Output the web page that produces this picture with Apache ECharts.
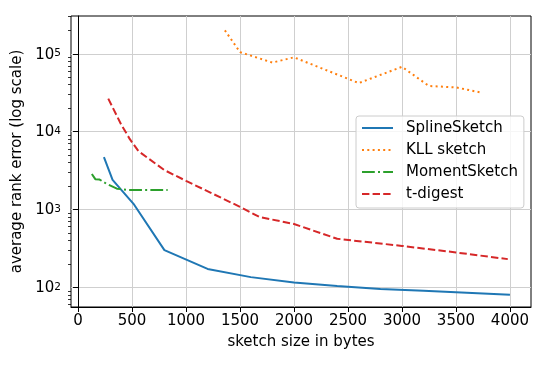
<!DOCTYPE html>
<html>
<head>
<meta charset="utf-8">
<title>sketch error</title>
<script src="https://cdn.jsdelivr.net/npm/echarts@6/dist/echarts.min.js"></script>
<style>
    html, body { margin: 0; padding: 0; background: #fff; }
    #main { width: 548px; height: 366px; }
</style>
</head>
<body>
<div id="main"></div>
<script>
    // values
    var splineX = [240, 320, 520, 800, 1200, 1600, 2000, 2400, 2800, 3200, 3600, 4000];
    var splineY = [4700, 2400, 1150, 300, 172, 135, 115, 104, 95, 90, 85, 80];

    var kllX = [1360, 1500, 1800, 2000, 2600, 3000, 3250, 3500, 3720];
    var kllY = [200000, 105000, 77000, 90000, 42000, 68000, 38500, 37000, 32000];

    var momentX = [128, 160, 200, 260, 360, 460, 830];
    var momentY = [2850, 2450, 2420, 2150, 1850, 1780, 1780];

    var tdigestX = [280, 400, 480, 560, 800, 1000, 1500, 1680, 2000, 2400, 3000, 3500, 3980];
    var tdigestY = [26500, 12300, 8000, 5600, 3200, 2330, 1080, 800, 650, 420, 340, 280, 230];

    var xTicks = [0, 500, 1000, 1500, 2000, 2500, 3000, 3500, 4000];
    var yMajor = [100, 1000, 10000, 100000];
    var yMinor = [60, 70, 80, 90,
        200, 300, 400, 500, 600, 700, 800, 900,
        2000, 3000, 4000, 5000, 6000, 7000, 8000, 9000,
        20000, 30000, 40000, 50000, 60000, 70000, 80000, 90000,
        200000, 300000];

    var font = 'DejaVu Sans';
    var fs = 15;

    function pairs(xs, ys) {
        return xs.map(function (x, i) { return [x, ys[i]]; });
    }

    var chart = echarts.init(document.getElementById('main'));

    var option = {
        animation: false,
        textStyle: { fontFamily: font },
        grid: {
            left: 71, top: 16, right: 17, bottom: 59,
            show: true, borderColor: '#000', borderWidth: 1
        },
        legend: {
            left: 356, top: 116,
            orient: 'vertical',
            padding: [3, 6, 5, 5],
            itemWidth: 31, itemHeight: 14, itemGap: 4,
            itemStyle: { opacity: 0, borderWidth: 0 },
            backgroundColor: 'rgba(255,255,255,0.8)',
            borderColor: '#cccccc', borderWidth: 1, borderRadius: 3,
            textStyle: { fontFamily: font, fontSize: fs, lineHeight: 18, color: '#000', padding: [0, 0, 0, 8] },
            data: ['SplineSketch', 'KLL sketch', 'MomentSketch', 't-digest']
        },
        xAxis: {
            type: 'value', min: -65, max: 4195, splitNumber: 9,
            name: 'sketch size in bytes', nameLocation: 'middle', nameGap: 28,
            nameTextStyle: { fontFamily: font, fontSize: fs, color: '#000' },
            axisLine: { show: true, onZero: false, lineStyle: { color: '#000', width: 1 } },
            axisTick: { show: true, length: 5, customValues: xTicks, lineStyle: { color: '#000', width: 1 } },
            axisLabel: {
                customValues: xTicks, margin: 7,
                fontFamily: font, fontSize: fs, color: '#000',
                formatter: function (v) { return String(v); }
            },
            splitLine: { show: true, lineStyle: { color: '#cfcfcf', width: 1 } }
        },
        yAxis: [{
            type: 'log', logBase: 10, min: 55.8, max: 305500,
            name: 'average rank error (log scale)', nameLocation: 'middle', nameGap: 31,
            nameTextStyle: { fontFamily: font, fontSize: fs, color: '#000' },
            axisLine: { show: true, lineStyle: { color: '#000', width: 1 } },
            axisTick: { show: true, length: 5, customValues: yMajor, lineStyle: { color: '#000', width: 1 } },
            axisLabel: {
                customValues: yMajor, margin: 10,
                formatter: function (v) {
                    var e = Math.log10(v);
                    if (Math.abs(e - Math.round(e)) > 1e-6) return '';
                    return '{b|10}{s|' + Math.round(e) + '}';
                },
                rich: {
                    b: { fontFamily: font, fontSize: fs, color: '#000', lineHeight: 17, padding: [6, 0, 0, 0], verticalAlign: 'bottom' },
                    s: { fontFamily: font, fontSize: 10.5, color: '#000', lineHeight: 12, padding: [3, 0, 0, 0], verticalAlign: 'top' }
                }
            },
            splitLine: { show: true, lineStyle: { color: '#cfcfcf', width: 1 } }
        }, {
            // minor ticks only
            type: 'log', logBase: 10, min: 55.8, max: 305500, position: 'left',
            axisLine: { show: false },
            axisTick: { show: true, length: 3, customValues: yMinor, lineStyle: { color: '#000', width: 0.8 } },
            axisLabel: { show: false },
            splitLine: { show: false }
        }],
        series: [{
            name: 'SplineSketch', type: 'line', symbol: 'none',
            data: pairs(splineX, splineY),
            itemStyle: { color: '#1f77b4' },
            lineStyle: { color: '#1f77b4', width: 2 }
        }, {
            name: 'KLL sketch', type: 'line', symbol: 'none',
            data: pairs(kllX, kllY),
            itemStyle: { color: '#ff7f0e' },
            lineStyle: { color: '#ff7f0e', width: 2, type: [2, 3.3], cap: 'butt' }
        }, {
            name: 'MomentSketch', type: 'line', symbol: 'none',
            data: pairs(momentX, momentY),
            itemStyle: { color: '#2ca02c' },
            lineStyle: { color: '#2ca02c', width: 2, type: [12.8, 3.2, 2, 3.2], cap: 'butt' }
        }, {
            name: 't-digest', type: 'line', symbol: 'none',
            data: pairs(tdigestX, tdigestY),
            itemStyle: { color: '#d62728' },
            lineStyle: { color: '#d62728', width: 2, type: [7.4, 3.2], cap: 'butt' }
        }]
    };

    chart.setOption(option);
</script>
</body>
</html>
